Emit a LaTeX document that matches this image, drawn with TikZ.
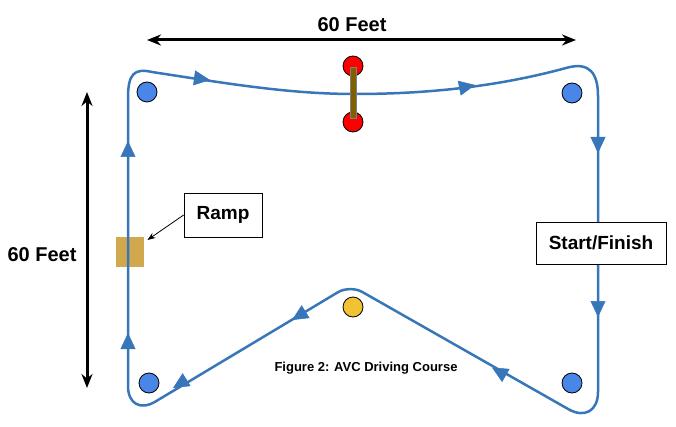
\documentclass[tikz,border=0pt]{standalone}
\usepackage{fontspec}
\setmainfont{Liberation Sans}
\usepackage{xcolor}
\usetikzlibrary{arrows.meta, positioning}
\definecolor{courseblue}{RGB}{55,118,185}
\definecolor{buoyblue}{RGB}{74,134,232}
\definecolor{gatered}{RGB}{255,0,0}
\definecolor{apexyellow}{RGB}{241,194,50}
\definecolor{gatebrown}{RGB}{127,96,0}
\definecolor{ramptan}{RGB}{210,168,78}
\tikzset{
    buoy/.style={circle, draw=black, line width=0.8pt, fill=buoyblue, minimum size=20pt, inner sep=0pt},
    course/.style={draw=courseblue, line width=2.5pt},
    flowmark/.style={draw=courseblue, fill=courseblue, line width=0.5pt, -{Triangle[length=16pt, width=15pt]}},
    labelbox/.style={rectangle, draw=black, line width=0.7pt, fill=white, text centered, inner sep=0pt, font=\fontsize{19}{22}\selectfont\bfseries},
    dimarrow/.style={line width=3pt, {Stealth[length=14pt, width=11pt]}-{Stealth[length=14pt, width=11pt]}},
    dimtext/.style={font=\fontsize{20}{24}\selectfont\bfseries, inner sep=0pt}
}
\begin{document}
\begin{tikzpicture}[x=1pt, y=-1pt]
    \useasboundingbox (0,0) rectangle (676,427);

    % Ramp
    \node (ramp) [rectangle, fill=ramptan, minimum width=28pt, minimum height=29pt, inner sep=0pt] at (130,252) {};

    % Course path
    \draw[course] (128,250) -- (128,98)
        .. controls (128,74) and (134,68) .. (152,72)
        .. controls (230,84) and (290,94) .. (355,94)
        .. controls (430,94) and (500,86) .. (566,68)
        .. controls (590,61) and (598,74) .. (598,96)
        [rounded corners=34pt] -- (598,426)
        [rounded corners=14pt] -- (350,285)
        [rounded corners=32pt] -- (128,418) -- (128,250);

    % Direction marks
    \foreach \bx/\by/\tx/\ty in {195/78/210/80, 460/88/475/85, 598/138/598/153, 598/302/598/317,
        505/375/492/367.5, 305/312/292/320, 186/380/173/388, 128/348/128/333, 128/156/128/141}
        \draw[flowmark] (\bx,\by) -- (\tx,\ty);

    % Buoys
    \node (tl) [buoy] at (147,92) {};
    \node (tr) [buoy] at (572,93) {};
    \node (bl) [buoy] at (149,383) {};
    \node (br) [buoy] at (572,383) {};
    \node (apex) [buoy, fill=apexyellow] at (353,307) {};

    % Gate
    \node (gatetop) [buoy, fill=gatered] at (353,66) {};
    \node (gatebot) [buoy, fill=gatered] at (353,122) {};
    \node (gate) [rectangle, fill=gatebrown, draw=black!50, line width=0.3pt, minimum width=6pt, minimum height=51pt, inner sep=0pt] at (353,92.5) {};

    % Labels
    \node (startlabel) [labelbox, minimum width=130pt, minimum height=42pt] at (601,243) {Start/Finish};
    \node (ramplabel) [labelbox, minimum width=78pt, minimum height=44pt] at (223,215) {Ramp};
    \draw[line width=0.8pt, -{Stealth[length=8pt, width=6pt]}, shorten >=4pt] (ramplabel.west) -- (ramp);

    % Dimensions
    \coordinate (topA) at (147,40);
    \coordinate (topB) at (576,40);
    \coordinate (leftA) at (87,92);
    \coordinate (leftB) at (87,388);
    \draw[dimarrow] (topA) -- (topB);
    \draw[dimarrow] (leftA) -- (leftB);
    \node (topdim) [dimtext] at (352,25) {60 Feet};
    \node (leftdim) [dimtext] at (42,255) {60 Feet};

    % Caption
    \node (caption) [font=\fontsize{13}{15}\selectfont\bfseries, inner sep=0pt] at (366,368) {Figure 2: AVC Driving Course};
\end{tikzpicture}
\end{document}
